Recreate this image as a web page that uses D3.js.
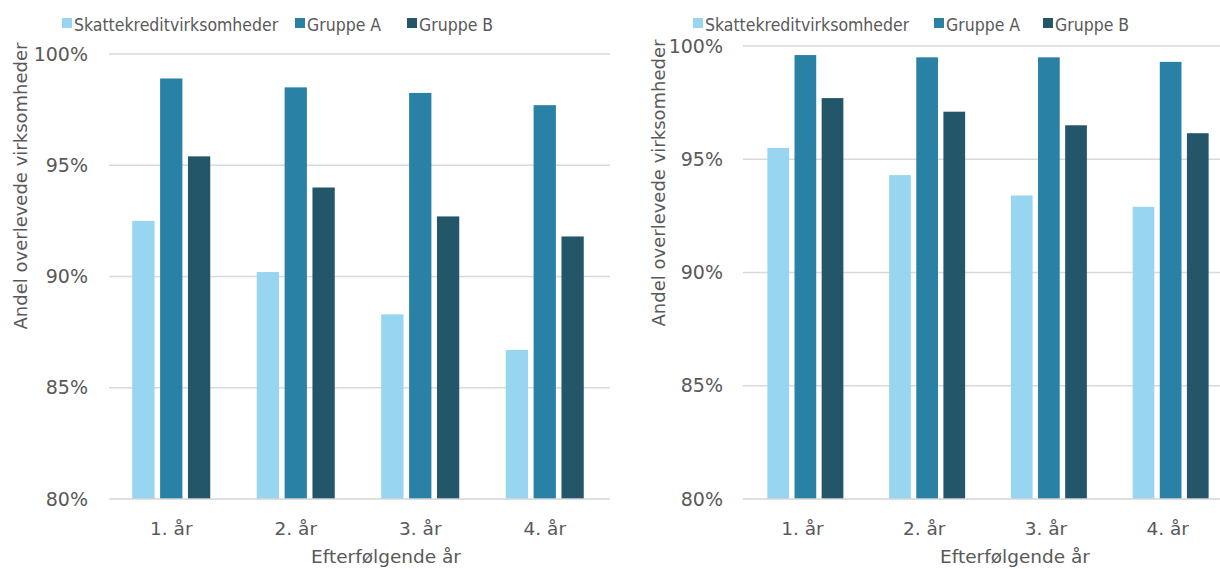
<!DOCTYPE html>
<html>
<head>
<meta charset="utf-8">
<script src="https://cdn.jsdelivr.net/npm/d3@7"></script>
<style>
  html, body { margin: 0; padding: 0; background: #fff; }
  svg { display: block; }
  text { fill: #595959; }
</style>
</head>
<body>
<svg id="chart" width="1220" height="569"></svg>
<script>
// Survival share of firms in the years following, two panels
const categories = ["1. år", "2. år", "3. år", "4. år"];
const seriesNames = ["Skattekreditvirksomheder", "Gruppe A", "Gruppe B"];
const seriesColors = ["#97d5f0", "#2982a6", "#24566a"];
const yTicks = [0.80, 0.85, 0.90, 0.95, 1.00];

// Left panel
const leftSkattekredit = [0.925, 0.902, 0.883, 0.867];
const leftGruppeA      = [0.989, 0.985, 0.9825, 0.977];
const leftGruppeB      = [0.954, 0.940, 0.927, 0.918];

// Right panel
const rightSkattekredit = [0.955, 0.943, 0.934, 0.929];
const rightGruppeA      = [0.996, 0.995, 0.995, 0.993];
const rightGruppeB      = [0.977, 0.971, 0.965, 0.9615];

const yTitle = "Andel overlevede virksomheder";
const xTitle = "Efterfølgende år";

const FONT = "'DejaVu Sans', Verdana, sans-serif";
const FONT_NARROW = "'DejaVu Sans Condensed', 'DejaVu Sans', sans-serif";

const svg = d3.select("#chart");
const fmt = d3.format(".0%");

function drawPanel(cfg) {
  const g = svg.append("g");
  const x = d3.scaleBand().domain(categories).range([cfg.left, cfg.right]);
  const y = d3.scaleLinear().domain([0.8, 1.0]).range([cfg.bottom, cfg.top]);
  const xs = d3.scaleBand().domain(seriesNames)
    .range([-cfg.groupHalf, cfg.groupHalf]).paddingInner(0.2);

  // gridlines
  g.append("g").selectAll("line").data(yTicks.slice(1)).join("line")
    .attr("x1", cfg.left).attr("x2", cfg.gridRight)
    .attr("y1", d => y(d)).attr("y2", d => y(d))
    .attr("stroke", "#d9d9d9").attr("stroke-width", 1.5);

  // bars
  const values = [cfg.s0, cfg.s1, cfg.s2];
  const rows = [];
  categories.forEach((c, i) => seriesNames.forEach((s, j) => rows.push({ c, s, j, v: values[j][i] })));
  g.append("g").selectAll("rect").data(rows).join("rect")
    .attr("x", d => x(d.c) + x.bandwidth() / 2 + cfg.groupShift + xs(d.s))
    .attr("width", xs.bandwidth())
    .attr("y", d => y(d.v))
    .attr("height", d => y(0.8) - y(d.v))
    .attr("fill", d => seriesColors[d.j]);

  // bottom axis line
  g.append("line").attr("x1", cfg.left).attr("x2", cfg.gridRight)
    .attr("y1", y(0.8)).attr("y2", y(0.8))
    .attr("stroke", "#d4d4d4").attr("stroke-width", 1.5);

  // y axis
  const yAxis = g.append("g").attr("transform", `translate(${cfg.tickRight},0)`)
    .call(d3.axisLeft(y).tickValues(yTicks).tickFormat(fmt).tickSize(0).tickPadding(0));
  yAxis.select(".domain").remove();
  yAxis.selectAll("text").style("font-size", "19px").style("fill", "#595959")
    .style("font-family", FONT);

  // x axis
  const xAxis = g.append("g").attr("transform", `translate(0,${cfg.bottom})`)
    .call(d3.axisBottom(x).tickSize(0).tickPadding(0));
  xAxis.select(".domain").remove();
  xAxis.selectAll("text").attr("dy", 0).attr("y", 36).attr("dx", cfg.labelShift)
    .style("font-size", "18.5px").style("fill", "#595959").style("font-family", FONT);

  // axis titles
  g.append("text").attr("transform", `translate(${cfg.yTitleX},${cfg.yTitleY}) rotate(-90)`)
    .attr("text-anchor", "middle").style("font-size", "18px").style("font-family", FONT)
    .text(yTitle);
  g.append("text").attr("x", cfg.xTitleX).attr("y", 563)
    .attr("text-anchor", "middle").style("font-size", "18.5px").style("font-family", FONT)
    .text(xTitle);

  // legend
  const lg = g.append("g");
  cfg.legend.forEach((px, j) => {
    lg.append("rect").attr("x", px).attr("y", 18).attr("width", 10).attr("height", 10)
      .attr("fill", seriesColors[j]);
    lg.append("text").attr("x", px + 12).attr("y", 30.5)
      .style("font-size", "17.5px").style("font-family", FONT_NARROW)
      .text(seriesNames[j]);
  });
}

drawPanel({
  left: 109, right: 607, gridRight: 610, top: 54, bottom: 499,
  groupHalf: 39, groupShift: 0, labelShift: 0, tickRight: 88,
  s0: leftSkattekredit, s1: leftGruppeA, s2: leftGruppeB,
  yTitleX: 27, yTitleY: 186, xTitleX: 386,
  legend: [62, 295, 407]
});

drawPanel({
  left: 743, right: 1230, gridRight: 1220, top: 46, bottom: 499,
  groupHalf: 38, groupShift: 1.5, labelShift: -1.5, tickRight: 723,
  s0: rightSkattekredit, s1: rightGruppeA, s2: rightGruppeB,
  yTitleX: 665, yTitleY: 183, xTitleX: 1015,
  legend: [693, 934, 1043]
});
</script>
</body>
</html>
